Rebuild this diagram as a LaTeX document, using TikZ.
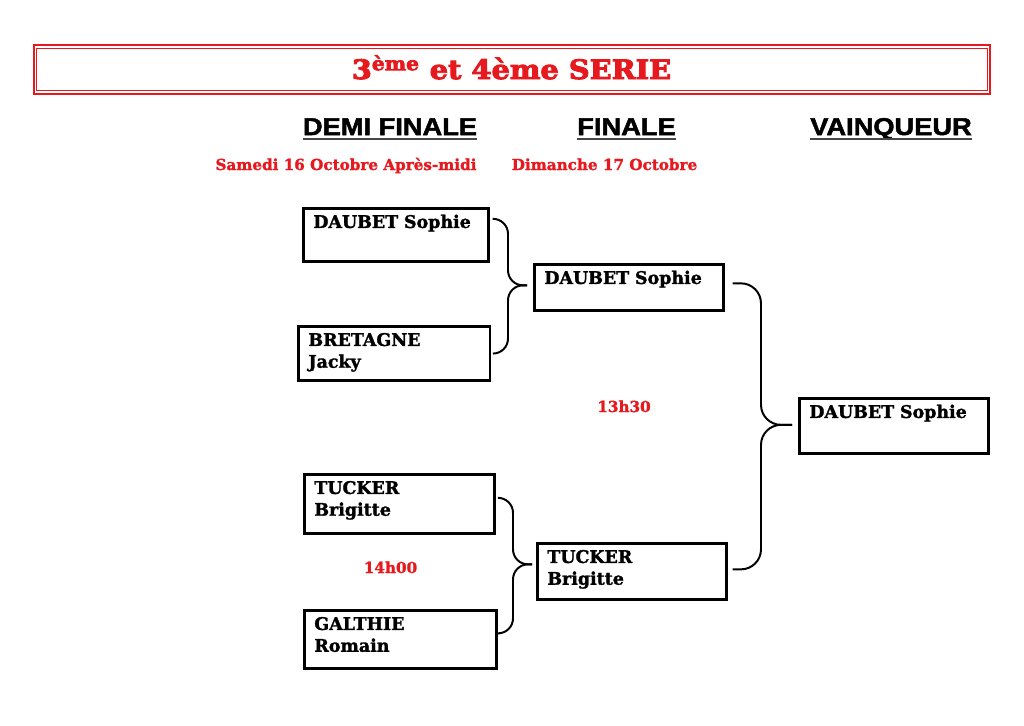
\documentclass[tikz,border=0pt]{standalone}
\usepackage{fontspec}
\setmainfont{DejaVu Serif}[BoldFont={DejaVu Serif Bold},
  BoldFeatures={FakeBold=1.6}]
\newfontfamily\titrefont{DejaVu Serif Bold}[FakeStretch=1.08,FakeBold=3.5]
\newfontfamily\entetefont{Liberation Sans Bold}[FakeStretch=1.12,FakeBold=2]
\definecolor{rouge}{RGB}{230,25,30}
\definecolor{soulign}{RGB}{70,70,70}
\tikzstyle{joueur}=[draw,line width=1.9pt,anchor=north west,align=left,
  inner xsep=0.25cm,inner ysep=0.19cm,text height=0.3cm,
  font=\fontsize{12.4}{15.5}\selectfont\bfseries]
\tikzstyle{entete}=[anchor=base,inner sep=0pt,
  font=\entetefont\fontsize{17.3}{20}\selectfont]
\tikzstyle{rouge texte}=[anchor=base,inner sep=0pt,text=rouge,
  font=\fontsize{10.8}{13}\selectfont\bfseries]
\tikzstyle{accolade}=[line width=1.4pt,rounded corners=0.375cm]

\begin{document}
\begin{tikzpicture}[x=0.025cm,y=-0.025cm]
  \useasboundingbox (0,0) rectangle (1024,725);

  % Title frame.
  \draw[rouge,line width=1.4pt] (33.7,45) rectangle (990.3,94);
  \draw[rouge,line width=0.7pt] (36.2,48.5) rectangle (987.8,90.5);
  \node[rouge texte,font=\titrefont\fontsize{19}{22}\selectfont]
    (titre) at (511.5,79) {3\textsuperscript{ème} et 4ème SERIE};

  % Column headings.
  \node[entete] (demi) at (390,135) {DEMI FINALE};
  \node[entete] (finale) at (626.5,135) {FINALE};
  \node[entete] (vainq) at (891,135) {VAINQUEUR};
  \foreach \h in {demi,finale,vainq}
    \draw[soulign,line width=1.4pt] ([yshift=-3pt]\h.base west)
      -- ([yshift=-3pt]\h.base east);

  % Dates.
  \node[rouge texte] (samedi) at (346,170) {Samedi 16 Octobre Après-midi};
  \node[rouge texte] (dimanche) at (604.5,170) {Dimanche 17 Octobre};

  % Semi-finals.
  \node[joueur,text width=4.125cm,text depth=0.645cm] (d1) at (302,207)
    {DAUBET Sophie};
  \node[joueur,text width=4.29cm,text depth=0.68cm] (d2) at (297,325)
    {BRETAGNE\\Jacky};
  \node[joueur,text width=4.25cm,text depth=0.795cm] (d3) at (303,473)
    {TUCKER\\Brigitte};
  \node[joueur,text width=4.3cm,text depth=0.77cm] (d4) at (303,609)
    {GALTHIE\\Romain};

  % Finals.
  \node[joueur,text width=4.225cm,text depth=0.47cm] (f1) at (533,263)
    {DAUBET Sophie};
  \node[joueur,text width=4.225cm,text depth=0.72cm] (f2) at (536,542)
    {TUCKER\\Brigitte};

  % Winner.
  \node[joueur,text width=4.225cm,text depth=0.695cm] (v) at (798,397)
    {DAUBET Sophie};

  % Match times.
  \node[rouge texte] (h1330) at (624,412) {13h30};
  \node[rouge texte] (h1400) at (390.5,573) {14h00};

  % Brackets.
  \draw[accolade] ([shift={(3,-16)}]d1.east) -| ([shift={(-25,-2)}]f1.west)
    -- ([shift={(-6,-2)}]f1.west);
  \draw[accolade] ([shift={(2,0)}]d2.east) -| ([shift={(-25,-2)}]f1.west)
    -- ([shift={(-6,-2)}]f1.west);
  \draw[accolade] ([shift={(4,-6)}]d3.east) -| ([shift={(-23,-7)}]f2.west)
    -- ([shift={(-4,-7)}]f2.west);
  \draw[accolade] ([shift={(2,-6)}]d4.east) -| ([shift={(-23,-7)}]f2.west)
    -- ([shift={(-4,-7)}]f2.west);
  \draw[accolade,rounded corners=0.5cm] ([shift={(8,-4)}]f1.east)
    -| ([shift={(-37,-1)}]v.west) -- ([shift={(-6,-1)}]v.west);
  \draw[accolade,rounded corners=0.5cm] ([shift={(5,-2)}]f2.east)
    -| ([shift={(-37,-1)}]v.west) -- ([shift={(-6,-1)}]v.west);
\end{tikzpicture}
\end{document}
